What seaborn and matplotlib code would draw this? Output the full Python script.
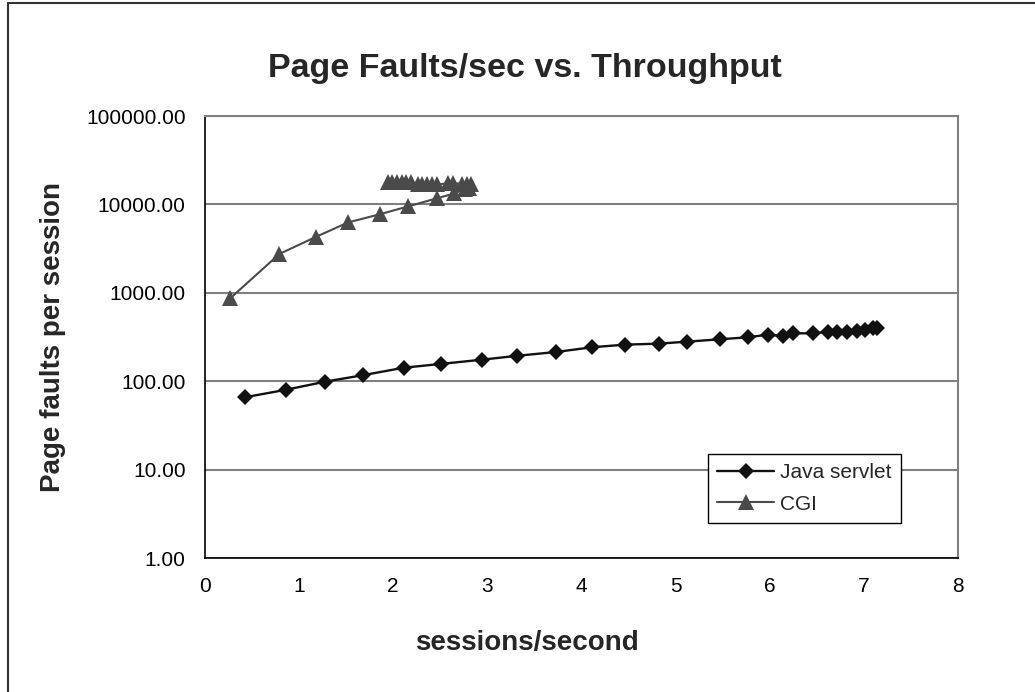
import numpy as np
import pandas as pd
import matplotlib
matplotlib.use("Agg")
import matplotlib.pyplot as plt
from matplotlib.lines import Line2D
from matplotlib.ticker import FixedLocator, FuncFormatter, NullLocator
import seaborn as sns

# ---- data ----
java_x = [0.43, 0.86, 1.28, 1.68, 2.11, 2.51, 2.94, 3.32, 3.73, 4.11,
          4.46, 4.82, 5.12, 5.47, 5.77, 5.98, 6.14, 6.25, 6.46, 6.62,
          6.71, 6.82, 6.93, 7.01, 7.10, 7.14]
java_y = [66, 80, 99, 117, 142, 157, 175, 194, 214, 242,
          259, 266, 280, 298, 314, 336, 325, 348, 348, 363,
          363, 363, 373, 380, 395, 405]

cgi_x = [0.27, 0.79, 1.18, 1.52, 1.86, 2.16, 2.46, 2.65, 2.76, 2.80,
         2.83, 2.78, 2.73, 2.63, 2.58, 2.46, 2.41, 2.36, 2.31, 2.26,
         2.19, 2.14, 2.09, 2.04, 1.99, 1.94]
cgi_y = [870, 2750, 4300, 6250, 7750, 9500, 11700, 13300, 15000, 15500,
         16800, 17200, 17200, 17300, 17300, 16800, 16800, 16800, 16800, 16800,
         17800, 17800, 17800, 17800, 17800, 17800]

series_names = ["Java servlet", "CGI"]
x_ticks = [0, 1, 2, 3, 4, 5, 6, 7, 8]
y_ticks = [1, 10, 100, 1000, 10000, 100000]

df = pd.concat([
    pd.DataFrame({"x": java_x, "y": java_y, "series": series_names[0]}),
    pd.DataFrame({"x": cgi_x, "y": cgi_y, "series": series_names[1]}),
], ignore_index=True)

# ---- style ----
sns.set_style("white")
plt.rcParams["font.family"] = ["Liberation Sans", "DejaVu Sans"]

fig = plt.figure(figsize=(10.35, 6.92), dpi=100)
ax = fig.add_axes([205 / 1035, 1 - 558 / 692, (958 - 205) / 1035, (558 - 116) / 692])

palette = {"Java servlet": "#111111", "CGI": "#4a4a4a"}
markers = {"Java servlet": "D", "CGI": "^"}
msizes = {"Java servlet": 8.5, "CGI": 11}
lwidths = {"Java servlet": 1.7, "CGI": 1.5}

sns.lineplot(data=df, x="x", y="y", hue="series", style="series",
             hue_order=series_names, style_order=series_names,
             palette=palette, markers=markers, dashes=False,
             sort=False, estimator=None, ax=ax, linewidth=1.6,
             markeredgewidth=0)

data_lines = ax.get_lines()[:2]
for line, name in zip(data_lines, series_names):
    line.set_markersize(msizes[name])
    line.set_linewidth(lwidths[name])

ax.set_yscale("log")
ax.set_xlim(0, 8)
ax.set_ylim(1, 100000)
ax.xaxis.set_major_locator(FixedLocator(x_ticks))
ax.yaxis.set_major_locator(FixedLocator(y_ticks))
ax.yaxis.set_minor_locator(NullLocator())
ax.yaxis.set_major_formatter(FuncFormatter(lambda v, p: f"{v:.2f}"))
ax.xaxis.set_major_formatter(FuncFormatter(lambda v, p: f"{v:g}"))

ax.grid(axis="y", color="#808080", linewidth=1.5)
ax.set_axisbelow(True)
for s in ["left", "bottom"]:
    ax.spines[s].set_color("#000000")
    ax.spines[s].set_linewidth(1.2)
for s in ["top", "right"]:
    ax.spines[s].set_color("#808080")
    ax.spines[s].set_linewidth(1.5)

ax.tick_params(axis="both", which="major", direction="out", length=6,
               width=1, colors="#000000", labelsize=15, pad=8)

ax.set_xlabel("sessions/second", fontsize=20, fontweight="bold")
ax.xaxis.set_label_coords((527 - 205) / (958 - 205), -0.192)
ax.xaxis.label.set_va("center")
ax.set_ylabel("Page faults per session", fontsize=20, fontweight="bold", labelpad=14)
fig.text(525 / 1035, 1 - 68 / 692, "Page Faults/sec vs. Throughput",
         ha="center", va="center", fontsize=24.5, fontweight="bold")

handles, labels = ax.get_legend_handles_labels()
new_handles = []
for l in labels[:2]:
    new_handles.append(Line2D([], [], color=palette[l], marker=markers[l],
                              markersize=msizes[l], markeredgewidth=0,
                              linewidth=lwidths[l]))
leg = ax.legend(new_handles, labels[:2], loc="lower left",
                bbox_to_anchor=(0.668, 0.079), borderaxespad=0,
                fontsize=15, frameon=True,
                fancybox=False, edgecolor="#000000", framealpha=1,
                handlelength=2.7, handletextpad=0.3, borderpad=0.45,
                labelspacing=0.6)
leg.get_frame().set_linewidth(1.0)

# figure border (left and top)
fig.add_artist(Line2D([8 / 1035, 8 / 1035], [0, 1 - 3 / 692], color="#333333", linewidth=1.5))
fig.add_artist(Line2D([8 / 1035, 1], [1 - 3 / 692, 1 - 3 / 692], color="#333333", linewidth=1.5))

fig.savefig("out.png", dpi=100, facecolor="white")
